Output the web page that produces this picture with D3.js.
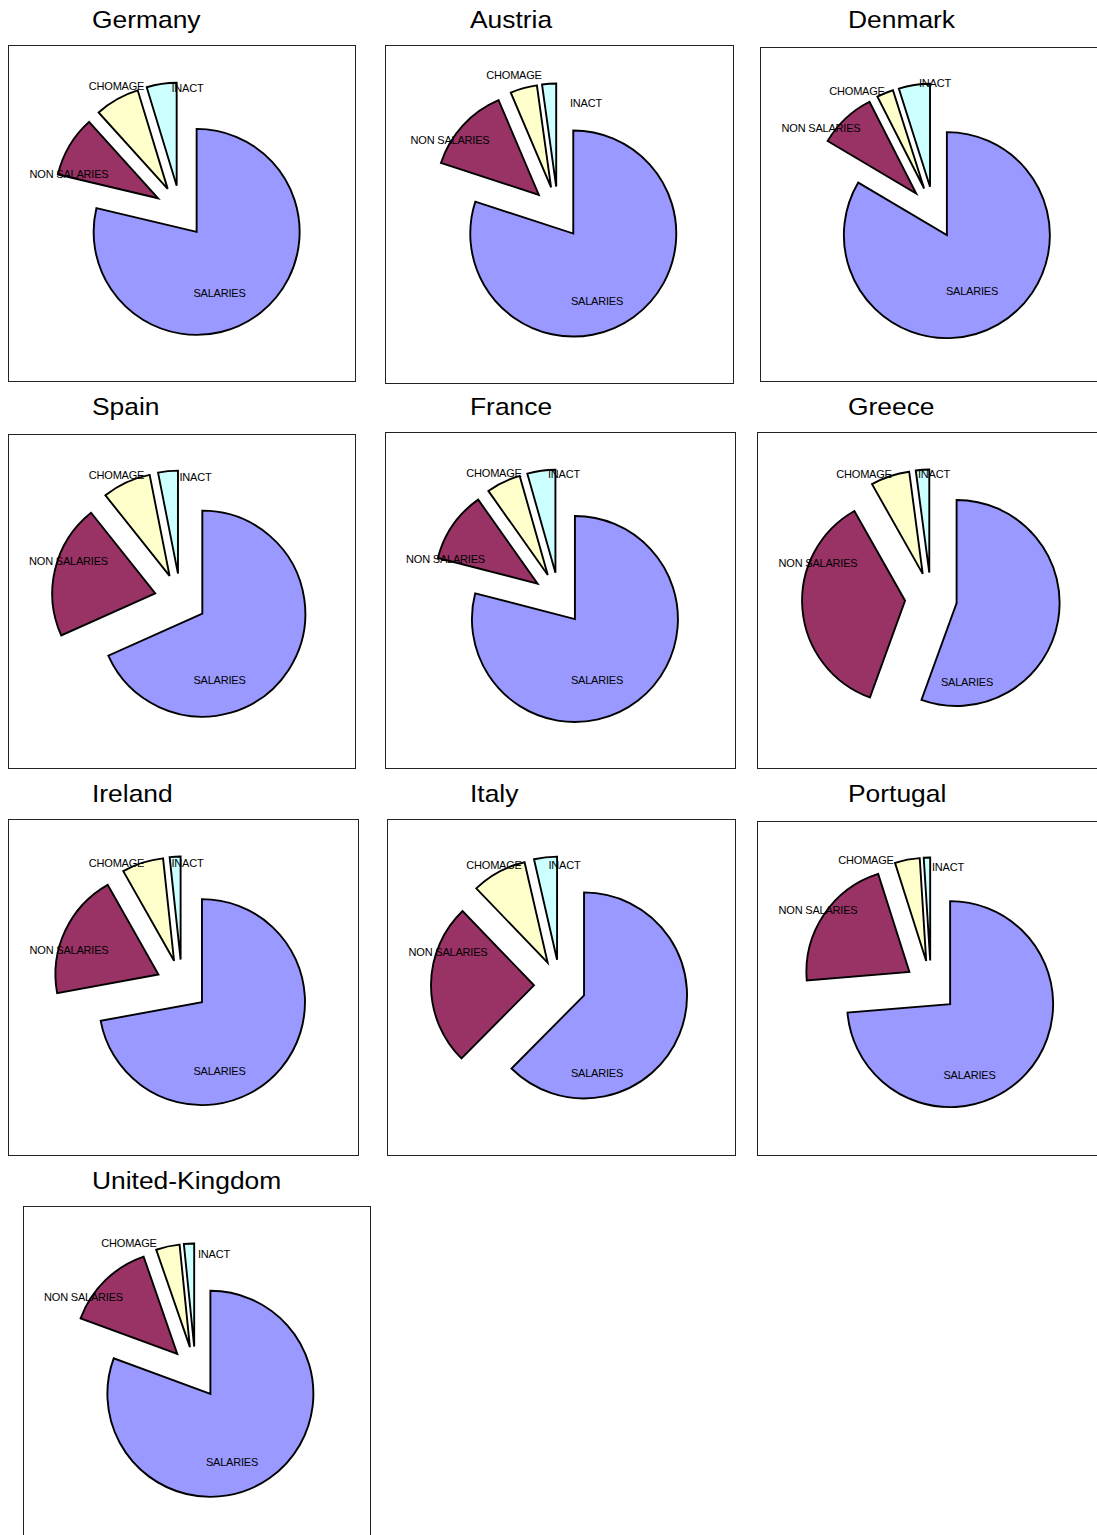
<!DOCTYPE html>
<html>
<head>
<meta charset="utf-8">
<script src="https://cdn.jsdelivr.net/npm/d3@7"></script>
<style>
  html, body { margin: 0; padding: 0; background: #fff; }
  svg { display: block; font-family: "Liberation Sans", Arial, sans-serif; }
</style>
</head>
<body>
<script>
// Income composition by country (% of total)
const countries = ["Germany", "Austria", "Denmark", "Spain", "France",
                   "Greece", "Ireland", "Italy", "Portugal", "United-Kingdom"];
const categories = ["SALARIES", "NON SALARIES", "CHOMAGE", "INACT"];

const salaries    = [78.7, 80.1, 83.6, 68.3, 79.1, 55.6, 72.1, 62.5, 73.7, 80.6];
const nonSalaries = [ 9.6, 13.6,  9.0, 21.0, 11.2, 36.3, 19.7, 25.4, 21.4, 14.1];
const chomage     = [ 7.0,  4.2,  2.6,  7.6,  5.4,  6.1,  6.5,  8.6,  3.9,  3.7];
const inact       = [ 4.7,  2.2,  4.9,  3.1,  4.4,  2.1,  1.7,  3.6,  1.0,  1.6];
const series = [salaries, nonSalaries, chomage, inact];

// Layout: panel frames [x, y, w, h], title anchors, label offsets from panel centre
const panels = [
  [8, 45, 347, 336], [385, 45, 348, 338], [760, 47, 350, 334],
  [8, 434, 347, 334], [385, 432, 350, 336], [757, 432, 350, 336],
  [8, 819, 350, 336], [387, 819, 348, 336], [757, 821, 350, 334],
  [23, 1206, 347, 336]
];
const titleX = [92, 470, 848];
const titleY = [28, 415, 802, 1189];
const labelOffsets = [
  [[38, 80], [-112.5, -39], [-65, -127], [6, -125]],
  [[38, 87], [-109, -74], [-45, -139], [27, -111]],
  [[37, 77], [-114, -86], [-78, -123], [0, -131]],
  [[38, 79], [-113, -40], [-65, -126], [14, -124]],
  [[37, 80], [-114.5, -41], [-66, -127], [4, -126]],
  [[35, 82], [-114, -37], [-68, -126], [2, -126]],
  [[36.5, 84], [-114, -37], [-66.5, -124], [4.5, -124]],
  [[36, 86], [-113, -35], [-67, -122], [3.5, -122]],
  [[37.5, 87], [-114, -78], [-66, -128], [16, -121]],
  [[35.5, 88], [-113, -77], [-67.5, -131], [17.5, -120]]
];

const sliceColors = ["#9999ff", "#993366", "#ffffcc", "#ccffff"];
const RADIUS = 103;
const EXPLODE = 26;

const svg = d3.select("body").append("svg")
  .attr("width", 1097)
  .attr("height", 1535);

const pie = d3.pie().sort(null).value(d => d.value)
  .startAngle(0).endAngle(2 * Math.PI);
const arc = d3.arc().innerRadius(0).outerRadius(RADIUS);

countries.forEach((name, i) => {
  const [x, y, w, h] = panels[i];
  const col = i % 3, row = Math.floor(i / 3);
  const g = svg.append("g").attr("class", "panel");

  // frame
  g.append("rect")
    .attr("x", x + 0.5).attr("y", y + 0.5)
    .attr("width", w).attr("height", h)
    .attr("fill", "#fff")
    .attr("stroke", "#222")
    .attr("stroke-width", 1);

  // title (slightly widened glyphs)
  g.append("text")
    .attr("transform", `translate(${titleX[col]},${titleY[row]}) scale(1.1,1)`)
    .attr("font-size", 24)
    .attr("fill", "#000")
    .text(name);

  const bx = x + w / 2, by = y + h / 2;
  const rows = categories.map((c, k) => ({ cat: c, value: series[k][i] }));
  const arcs = pie(rows);

  const pg = g.append("g").attr("transform", `translate(${bx - 1},${by - 1.5})`);
  pg.selectAll("path")
    .data(arcs)
    .join("path")
    .attr("d", arc)
    .attr("transform", d => {
      const m = (d.startAngle + d.endAngle) / 2;
      return `translate(${Math.sin(m) * EXPLODE},${-Math.cos(m) * EXPLODE})`;
    })
    .attr("fill", (d, k) => sliceColors[k])
    .attr("stroke", "#000")
    .attr("stroke-width", 1.9)
    .attr("stroke-linejoin", "miter");

  // slice labels
  g.selectAll("text.lbl")
    .data(arcs)
    .join("text")
    .attr("class", "lbl")
    .attr("x", (d, k) => bx + labelOffsets[i][k][0])
    .attr("y", (d, k) => by + labelOffsets[i][k][1] + 4)
    .attr("text-anchor", "middle")
    .attr("font-size", 11)
    .attr("letter-spacing", "-0.2px")
    .attr("fill", "#000")
    .text(d => d.data.cat);
});
</script>
</body>
</html>
